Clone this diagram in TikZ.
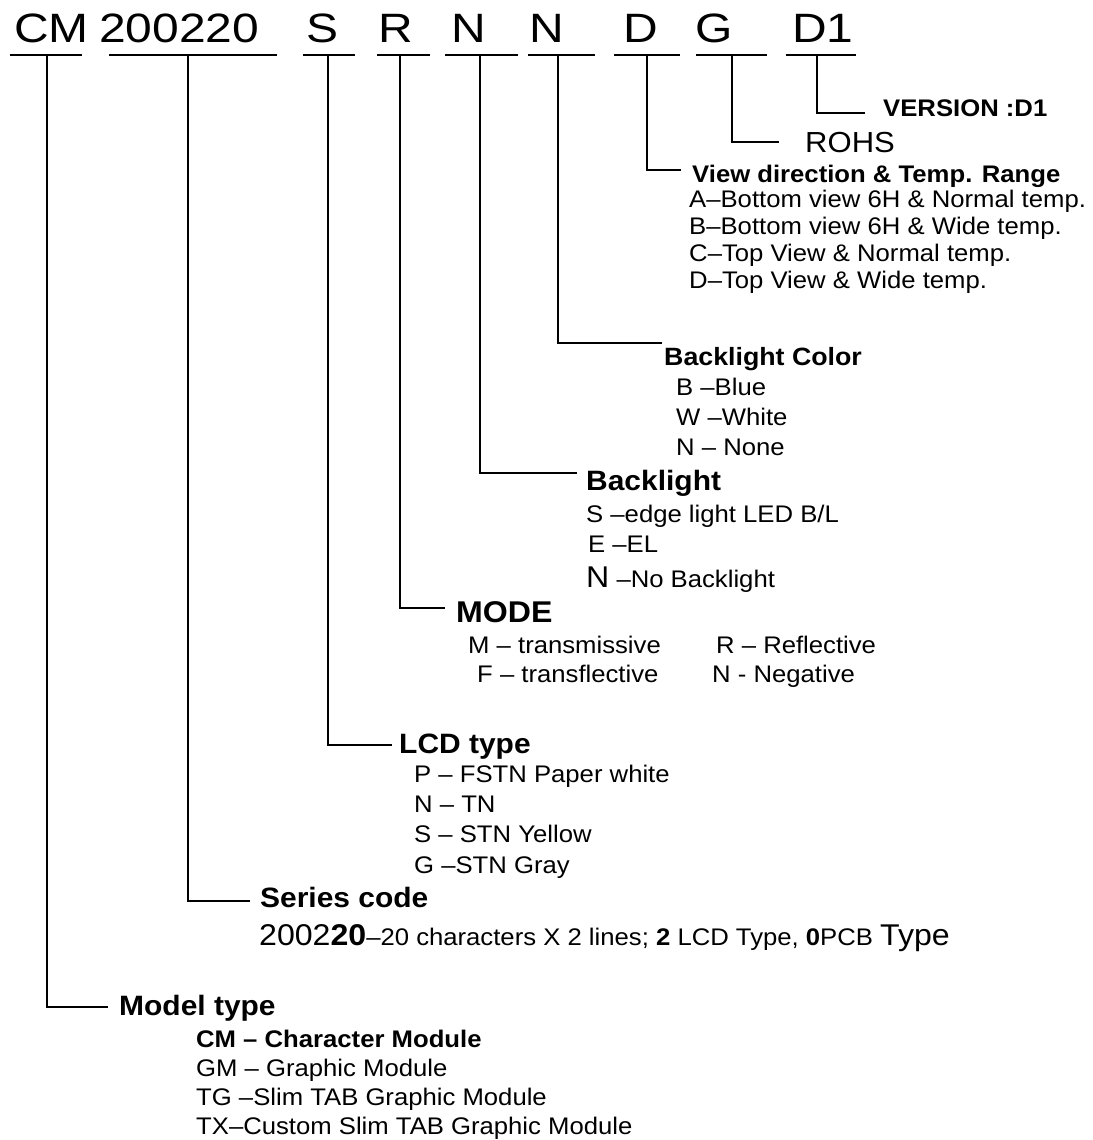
\documentclass[tikz,border=0pt]{standalone}
\usepackage{fontspec}
\setmainfont{Liberation Sans}[FakeStretch=1.07]
\newfontfamily\codefont{Liberation Sans}[FakeStretch=1.17]
\newcommand\setsz[1]{\fontsize{#1}{#1}\selectfont}

\begin{document}
\begin{tikzpicture}[x=1pt, y=-1pt, line width=2.4pt,
    code/.style={anchor=base west, inner sep=0pt, font=\codefont\setsz{41}},
    head/.style={anchor=base west, inner sep=0pt, font=\bfseries\setsz{28}},
    item/.style={anchor=base west, inner sep=0pt, font=\setsz{24}}]

  \useasboundingbox (0,0) rectangle (1092,1140);

  % Define code letters
  \foreach \n/\x/\t in {model/13/CM, series/98/200220, lcd/305/S, mode/377/R,
                        bl/450/N, blc/528/N, view/622/D, rohs/694/G, ver/791/D1}
    \node[code] (c\n) at (\x,43) {\t};

  % Define bars under the letters
  \foreach \n/\a/\b/\v in {model/10/82/47, series/109/277/188, lcd/303/355/328,
                           mode/377/430/400, bl/445/518/480, blc/528/595/558,
                           view/614/680/647, rohs/696/767/732, ver/786/856/817}{
    \draw (\a,55) -- (\b,55);
    \coordinate (tap\n) at (\v,55);
  }

  % Define headings
  \node[head, font=\bfseries\setsz{24}] (ver) at (882,116) {VERSION :D1};
  \node[head, font=\setsz{29}] (rohs) at (804,152) {ROHS};
  \node[head, font=\bfseries\setsz{24}] (view) at (691,182) {View direction \& Temp. Range};
  \node[head, font=\bfseries\setsz{25}] (blc) at (663,365) {Backlight Color};
  \node[head] (bl) at (585,490) {Backlight};
  \node[head, font=\bfseries\setsz{30}] (mode) at (455,622) {MODE};
  \node[head] (lcd) at (398,753) {LCD type};
  \node[head] (series) at (259,907) {Series code};
  \node[head] (model) at (118,1015) {Model type};

  % Define items
  \foreach \t [count=\i from 0] in {A–Bottom view 6H \& Normal temp., B–Bottom view 6H \& Wide temp.,
                                   C–Top View \& Normal temp., D–Top View \& Wide temp.}
    \node[item] (view\i) at (688,207+27*\i) {\t};
  \foreach \t [count=\i from 0] in {B –Blue, W –White, N – None}
    \node[item] (blc\i) at (675,395+30*\i) {\t};
  \node[item] (bl0) at (585,522) {S –edge light LED B/L};
  \node[item] (bl1) at (587,552) {E –EL};
  \node[item] (bl2) at (585,587) {{\setsz{30}N} –No Backlight};
  \node[item] (mode0) at (467,653) {M – transmissive};
  \node[item] (mode1) at (715,653) {R – Reflective};
  \node[item] (mode2) at (476,682) {F – transflective};
  \node[item] (mode3) at (711,682) {N - Negative};
  \foreach \t [count=\i from 0] in {P – FSTN Paper white, N – TN, S – STN Yellow, G –STN Gray}
    \node[item] (lcd\i) at (413,782+30.4*\i) {\t};
  \node[item] (series0) at (258,945) {\setsz{30}2002\textbf{20}\setsz{24}–20 characters X 2 lines; \textbf{2} LCD Type, \textbf{0}PCB \setsz{30}Type};
  \foreach \t [count=\i from 0] in {\textbf{CM – Character Module}, GM – Graphic Module,
                                   TG –Slim TAB Graphic Module, TX–Custom Slim TAB Graphic Module}
    \node[item] (model\i) at (195,1047+29.3*\i) {\t};

  % Define connectors
  \draw (tapver) |- ([xshift=-17pt,yshift=3pt]ver.base west);
  \draw (taprohs) |- ([xshift=-25pt,yshift=10pt]rohs.base west);
  \draw (tapview) |- ([xshift=-10pt,yshift=12pt]view.base west);
  \draw (tapblc) |- ([xshift=-1pt,yshift=22pt]blc.base west);
  \draw (tapbl) |- ([xshift=-8pt,yshift=17pt]bl.base west);
  \draw (tapmode) |- ([xshift=-10pt,yshift=14pt]mode.base west);
  \draw (taplcd) |- ([xshift=-6pt,yshift=8pt]lcd.base west);
  \draw (tapseries) |- ([xshift=-9pt,yshift=6pt]series.base west);
  \draw (tapmodel) |- ([xshift=-10pt,yshift=8pt]model.base west);

\end{tikzpicture}
\end{document}
